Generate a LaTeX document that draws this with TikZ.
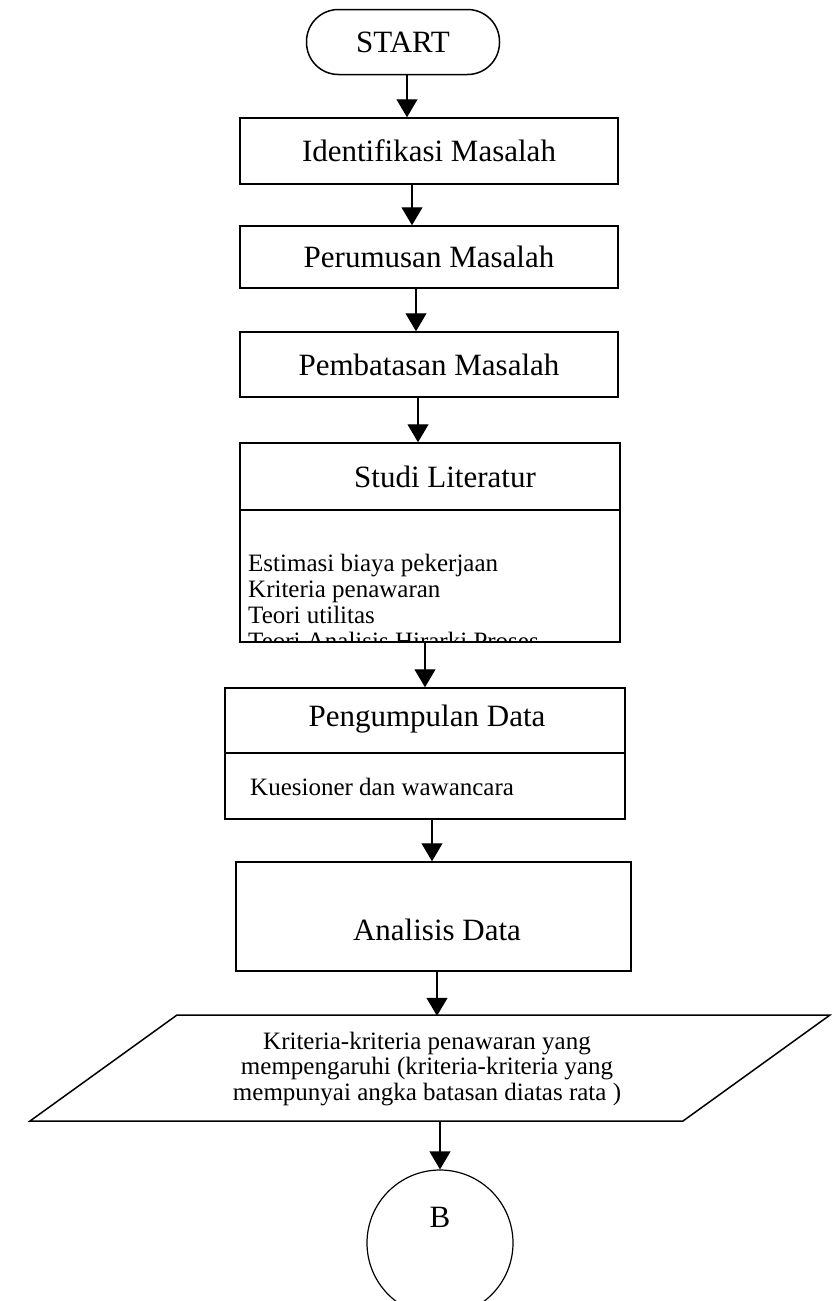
\documentclass[tikz,border=0pt]{standalone}
\usepackage{fontspec}
\setmainfont{Liberation Serif}
\usetikzlibrary{arrows.meta}
\tikzset{
  box/.style={draw,line width=1.5pt,inner sep=0pt},
  flow/.style={line width=1.2pt,-{Triangle[length=18pt,width=21pt]}},
  big/.style={font=\fontsize{31}{36}\selectfont},
  small/.style={font=\fontsize{25}{26}\selectfont,align=left,inner sep=0pt},
}
\begin{document}
\begin{tikzpicture}[x=1pt,y=-1pt]
\useasboundingbox (0,0) rectangle (832,1301);
\fill[white](0,0) rectangle (832,1301);
\node[box,rounded corners=32pt,minimum width=193pt,minimum height=65pt,big] (start) at (403,42) {START};
\node[box,minimum width=378pt,minimum height=66pt,big] (ident) at (429,151) {Identifikasi Masalah};
\node[box,minimum width=378pt,minimum height=62pt,big] (perum) at (429,257) {Perumusan Masalah};
\node[box,minimum width=378pt,minimum height=65pt,big] (pemb) at (429,364.5) {Pembatasan Masalah};
\node[box,minimum width=380pt,minimum height=199pt] (studi) at (430,542.5) {};
\node[big] (studiT) at (445,477) {Studi Literatur};
\draw[line width=1.5pt] (studi.west |- 0,510) -- (studi.east |- 0,510);
\begin{scope}
  \clip (studi.north west) rectangle (studi.south east);
  \node[small,anchor=north west] (studiL) at (248,554) {Estimasi biaya pekerjaan\\Kriteria penawaran\\Teori utilitas\\Teori Analisis Hirarki Proses};
\end{scope}
\node[box,minimum width=400pt,minimum height=131pt] (peng) at (425,753.5) {};
\node[big] (pengT) at (427,719) {Pengumpulan Data};
\draw[line width=1.5pt] (peng.west |- 0,753) -- (peng.east |- 0,753);
\node[small,anchor=west] (pengL) at (250,787) {Kuesioner dan wawancara};
\node[box,minimum width=395pt,minimum height=109pt] (anal) at (433.5,916.5) {};
\node[big] (analT) at (437,930) {Analisis Data};
\draw[line width=1.5pt] (177,1015) -- (830,1015) -- (683,1121) -- (30,1121) -- cycle;
\node[align=center,inner sep=0pt,minimum height=106pt,font=\fontsize{25}{25.5}\selectfont] (para) at (427,1069)
  {Kriteria-kriteria penawaran yang\\mempengaruhi (kriteria-kriteria yang\\mempunyai angka batasan diatas rata )};
\node[draw,circle,line width=1.2pt,minimum size=146pt,inner sep=0pt] (conB) at (440,1243) {};
\node[big] (conBT) at ([yshift=26pt]conB.center) {B};
\draw[flow] ([xshift=4pt]start.south) -- ([xshift=-22pt]ident.north);
\draw[flow] ([xshift=-17pt]ident.south) -- ([xshift=-17pt]perum.north);
\draw[flow] ([xshift=-13pt]perum.south) -- ([xshift=-13pt]pemb.north);
\draw[flow] ([xshift=-11pt]pemb.south) -- ([xshift=-12pt]studi.north);
\draw[flow] ([xshift=-5pt]studi.south) -- (peng.north);
\draw[flow] ([xshift=7pt]peng.south) -- ([xshift=-1.5pt]anal.north);
\draw[flow] ([xshift=3.5pt]anal.south) -- ([xshift=10pt]para.north);
\draw[flow] ([xshift=13pt]para.south) -- (conB.north);
\end{tikzpicture}
\end{document}
